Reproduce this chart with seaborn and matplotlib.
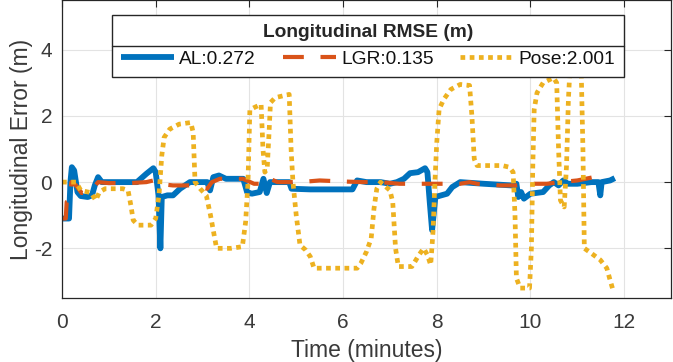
import numpy as np
import pandas as pd
import matplotlib
matplotlib.use("Agg")
import matplotlib.pyplot as plt
import seaborn as sns
from matplotlib.lines import Line2D

# ---------------- data (time in minutes, error in m) ----------------
al_t = [0.0, 0.15, 0.18, 0.21, 0.26, 0.33, 0.4, 0.55, 0.64, 0.7, 0.77, 0.85, 1.4,
        1.6, 1.72, 1.8, 1.95, 2.0, 2.06, 2.1, 2.13, 2.25, 2.37, 2.52, 2.73, 3.1,
        3.16, 3.23, 3.35, 3.5, 3.87, 3.95, 4.05, 4.22, 4.3, 4.37, 4.44, 4.85, 4.9,
        5.3, 6.2, 6.3, 6.5, 6.8, 7.0, 7.15, 7.3, 7.43, 7.6, 7.75, 7.8, 7.85, 7.9,
        7.97, 8.22, 8.33, 8.5, 9.0, 9.6, 9.7, 9.74, 9.8, 9.86, 10.0, 10.27, 10.4,
        10.5, 10.6, 10.7, 10.8, 11.0, 11.3, 11.45, 11.49, 11.52, 11.7, 11.8]
al_v = [-1.1, -1.1, 0.0, 0.45, 0.35, -0.3, -0.42, -0.45, -0.4, -0.1, 0.15, 0.0, 0.0,
        0.0, 0.15, 0.25, 0.42, 0.3, -0.4, -2.0, -0.45, -0.4, -0.4, -0.2, 0.0, 0.0,
        -0.25, 0.15, 0.2, 0.1, 0.1, -0.3, -0.35, -0.3, 0.1, -0.33, 0.0, 0.0, -0.2,
        -0.22, -0.22, 0.05, 0.0, 0.0, -0.05, 0.0, 0.1, 0.27, 0.3, 0.42, 0.3, -0.6, -1.45,
        -0.45, -0.35, -0.15, 0.0, -0.05, -0.1, -0.05, -0.45, -0.3, -0.5, -0.35, -0.3, -0.1,
        0.0, -0.1, 0.05, -0.05, -0.05, 0.0, 0.0, -0.4, 0.0, 0.05, 0.12]

lgr_t = [0.0, 0.08, 0.1, 0.16, 0.2, 0.3, 0.42, 0.6, 0.77, 1.0, 1.45, 1.8, 1.95, 2.05,
         2.37, 2.8, 3.1, 3.2, 3.37, 3.86, 4.1, 4.37, 4.44, 4.6, 5.08, 5.5, 5.97, 6.43,
         6.8, 7.2, 7.65, 7.93, 8.14, 8.5, 8.7, 8.86, 9.35, 9.7, 10.0, 10.35, 10.64,
         11.0, 11.35, 11.55, 11.65]
lgr_v = [-1.1, -1.1, -0.6, -0.55, 0.0, -0.1, -0.33, -0.3, 0.0, -0.03, -0.03, 0.0, 0.05,
         -0.05, -0.1, -0.1, -0.2, 0.0, 0.1, 0.1, -0.05, -0.05, 0.1, 0.0, 0.0, 0.05, 0.02,
         0.0, 0.0, -0.05, -0.05, -0.05, -0.05, -0.05, 0.0, -0.05, -0.1, -0.1, -0.05, -0.05,
         0.0, 0.05, 0.15, 0.2, 0.15]

pose_t = [0.0, 0.3, 0.4, 0.62, 0.72, 0.8, 0.92, 1.3, 1.41, 1.47, 1.52, 1.62, 1.9, 2.0,
          2.07, 2.13, 2.18, 2.3, 2.5, 2.75, 2.8, 2.84, 2.95, 3.08, 3.17, 3.3, 3.6, 3.85,
          3.92, 3.97, 4.01, 4.1, 4.25, 4.29, 4.33, 4.38, 4.42, 4.45, 4.55, 4.85, 4.89,
          4.93, 5.0, 5.08, 5.2, 5.3, 5.38, 6.3, 6.38, 6.5, 6.6, 6.66, 6.72, 6.8, 6.88,
          7.0, 7.06, 7.12, 7.18, 7.47, 7.62, 7.72, 7.8, 7.87, 7.92, 7.96, 8.0, 8.05,
          8.15, 8.3, 8.5, 8.7, 8.75, 8.8, 8.86, 9.4, 9.55, 9.63, 9.67, 9.7, 9.78, 9.98,
          10.02, 10.05, 10.08, 10.14, 10.27, 10.49, 10.56, 10.6, 10.64, 10.72, 10.77,
          10.81, 10.85, 11.08, 11.12, 11.15, 11.3, 11.49, 11.63, 11.7, 11.77]
pose_v = [0.0, 0.0, -0.25, -0.32, -0.55, -0.3, -0.2, -0.2, -0.25, -0.7, -1.15, -1.3, -1.3,
          -1.1, -0.4, 0.8, 1.35, 1.6, 1.75, 1.8, 1.5, 0.0, -0.2, -0.4, -1.0, -2.0, -2.0,
          -1.95, -1.2, 0.0, 2.18, 2.25, 2.35, 1.0, 0.3, 0.4, 1.5, 2.4, 2.55, 2.65, 1.0,
          0.0, -1.0, -1.9, -2.05, -2.25, -2.6, -2.6, -2.45, -2.1, -1.7, -0.8, -0.2, 0.0,
          -0.1, -0.25, -0.6, -2.0, -2.55, -2.55, -2.2, -2.0, -2.2, -2.5, -1.5, 0.0, 1.2,
          2.2, 2.5, 2.8, 2.95, 2.92, 2.0, 0.7, 0.5, 0.5, 0.45, 0.3, -1.0, -2.9, -3.2,
          -3.2, -2.0, 0.5, 2.2, 2.7, 3.0, 3.15, 3.0, 1.0, -0.55, -0.75, 0.5, 2.5, 3.6,
          3.6, 1.0, -2.0, -2.15, -2.35, -2.6, -2.96, -3.3]

labels = ["AL:0.272", "LGR:0.135", "Pose:2.001"]
legend_title = "Longitudinal RMSE (m)"
x_ticks = [0, 2, 4, 6, 8, 10, 12]
y_ticks = [-2, 0, 2, 4]

# ---------------- style ----------------
sns.set_theme(style="whitegrid")
plt.rcParams['font.family'] = ['Liberation Sans', 'DejaVu Sans']

BLUE = "#0072BD"
ORANGE = "#D95319"
YELLOW = "#EDB120"
DARK = "#262626"
TXT = "#3a3a3a"

fig = plt.figure(figsize=(6.73, 3.62), dpi=100)
ax = fig.add_axes([62 / 673, 64 / 362, 609 / 673, 298 / 362])

df_al = pd.DataFrame({"t": al_t, "v": al_v})
df_lgr = pd.DataFrame({"t": lgr_t, "v": lgr_v})
df_pose = pd.DataFrame({"t": pose_t, "v": pose_v})

sns.lineplot(data=df_al, x="t", y="v", ax=ax, color=BLUE, lw=4.2,
             estimator=None, sort=False, label=labels[0])
sns.lineplot(data=df_lgr, x="t", y="v", ax=ax, color=ORANGE, lw=3.0,
             estimator=None, sort=False, label=labels[1])
sns.lineplot(data=df_pose, x="t", y="v", ax=ax, color=YELLOW, lw=3.4,
             estimator=None, sort=False, label=labels[2])

lines = ax.get_lines()
lines[1].set_dashes((5.0, 4.0))
lines[2].set_dashes((1.0, 0.95))
for ln in lines:
    ln.set_solid_capstyle("butt")
    ln.set_dash_capstyle("butt")

ax.set_xlim(0, 13)
ax.set_ylim(-3.5, 5.5)
ax.set_xticks(x_ticks)
ax.set_yticks(y_ticks)
ax.set_yticklabels([str(v) for v in y_ticks])
ax.grid(True, color="#e3e3e3", lw=0.8)
ax.set_axisbelow(True)
for s in ax.spines.values():
    s.set_visible(True)
    s.set_color(DARK)
    s.set_linewidth(0.9)
ax.tick_params(direction="in", top=True, right=True, length=5, width=0.8,
               color=DARK, labelcolor=TXT, labelsize=15)
ax.tick_params(axis="x", pad=11)
ax.tick_params(axis="y", pad=7)
ax.set_xlabel("Time (minutes)", fontsize=16.5, color=TXT, labelpad=5)
ax.set_ylabel("Longitudinal Error (m)", fontsize=16.5, color=TXT, labelpad=1)

handles, labs = ax.get_legend_handles_labels()
leg = ax.legend(handles, labs, loc="upper left",
                bbox_to_anchor=(50 / 609, 283 / 298, 512 / 609, 0.0),
                mode="expand", ncol=3, title=legend_title,
                title_fontproperties={"weight": "bold", "size": 13.8},
                fontsize=13.8, frameon=True, fancybox=False, edgecolor=DARK,
                framealpha=1, borderaxespad=0, handlelength=2.8,
                handletextpad=0.25, borderpad=0.45, labelspacing=0.52)
leg.get_frame().set_linewidth(1.0)
for t in leg.get_texts():
    t.set_color("#111111")

fig.canvas.draw()
r = fig.canvas.get_renderer()
fb = leg.get_frame().get_window_extent(r)
tb = leg.get_title().get_window_extent(r)
sep_px = 0.52 * 13.8 * fig.dpi / 72.0
ysep = tb.y0 - sep_px / 2.0
inv = fig.transFigure.inverted()
(x0, y0), (x1, _) = inv.transform([(fb.x0, ysep), (fb.x1, ysep)])
fig.add_artist(Line2D([x0, x1], [y0, y0], transform=fig.transFigure,
                      color=DARK, lw=1.0, zorder=10))

fig.savefig("out.png", dpi=100)
